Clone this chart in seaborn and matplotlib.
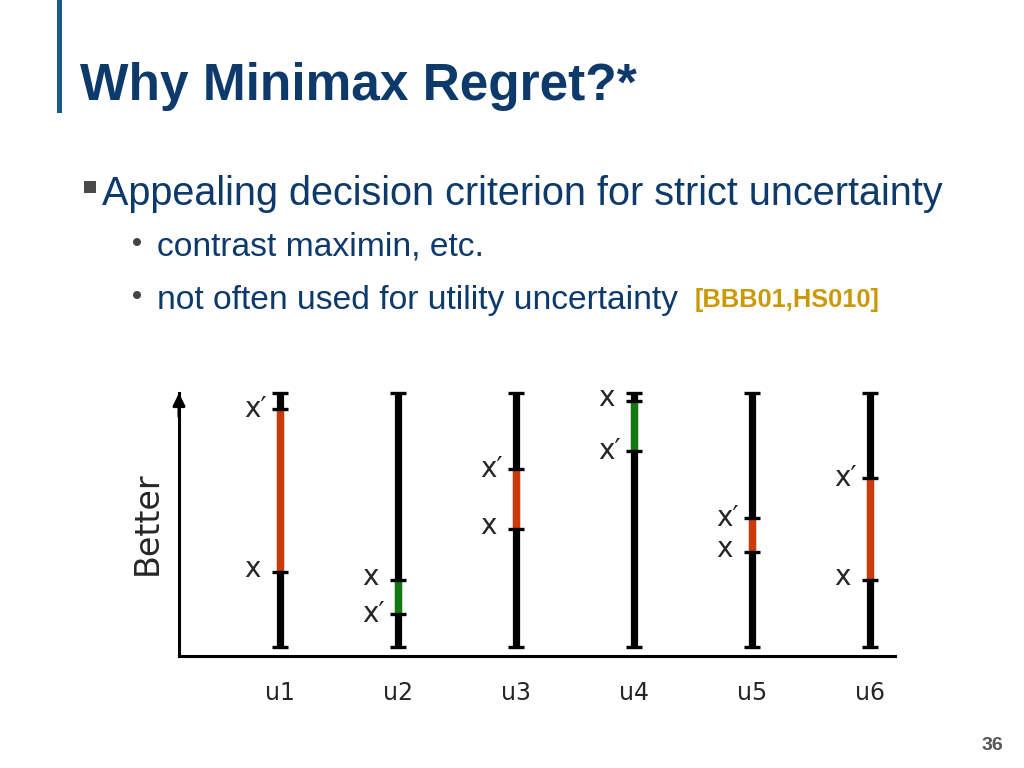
import numpy as np
import pandas as pd
import seaborn as sns
import matplotlib.pyplot as plt
from matplotlib.patches import Rectangle, Ellipse

# --- data (0 = bottom of scale, 100 = top) ---
utilities = ['u1', 'u2', 'u3', 'u4', 'u5', 'u6']
x_value = [29.5, 26.4, 46.5, 97.0, 37.3, 26.4]
xprime_value = [93.7, 13.0, 70.0, 77.2, 50.7, 66.7]
scale_low = [0, 0, 0, 0, 0, 0]
scale_high = [100, 100, 100, 100, 100, 100]

NAVY = '#0d3a6b'
RED = '#cc3a0a'
GREEN = '#107a10'
W, H = 1024, 768


def fx(px):
    return px / W


def fy(py):
    return 1 - py / H


sns.set_theme(style="white")
plt.rcParams['font.family'] = ['Liberation Sans', 'DejaVu Sans']

fig = plt.figure(figsize=(10.24, 7.68), dpi=100)

# slide header
fig.add_artist(Rectangle((fx(57), fy(113)), fx(4.5), 113 / H, color='#1f5a86', lw=0))
fig.text(fx(80), fy(100), "Why Minimax Regret?*", fontsize=37, fontweight='bold',
         color=NAVY, va='baseline')

# bullets
fig.add_artist(Rectangle((fx(84), fy(193)), fx(12), 12 / H, color='#4a4a4a', lw=0))
fig.text(fx(102), fy(205), "Appealing decision criterion for strict uncertainty",
         fontsize=28.5, color=NAVY, va='baseline')
for dot_y in [242, 295]:
    fig.add_artist(Ellipse((fx(137), fy(dot_y)), fx(8), 8 / H, color='#444444', lw=0))
fig.text(fx(157), fy(256), "contrast maximin, etc.", fontsize=24.2, color=NAVY, va='baseline')
fig.text(fx(157), fy(309), "not often used for utility uncertainty", fontsize=24.2,
         color=NAVY, va='baseline')
fig.text(fx(695), fy(307), "[BBB01,HS010]", fontsize=18.3, fontweight='bold',
         color='#c99a06', va='baseline')
fig.text(fx(1003), fy(750), "36", fontsize=14, fontweight='bold', color='#555555',
         ha='right', va='baseline')

lab_font = ['DejaVu Sans']
fig.text(fx(147), fy(523), "Better", rotation=90, fontsize=24, family=lab_font,
         ha='center', va='center')

# chart area
ax = fig.add_axes([fx(179), fy(656), fx(895 - 179), (656 - 393) / H])
pos = np.arange(len(utilities))
ax.set_xlim(-0.856, 5.21)
ax.set_ylim(-3.55, 100)

df = pd.DataFrame({'u': utilities, 'pos': pos, 'x': x_value, 'xp': xprime_value,
                   'lo': scale_low, 'hi': scale_high})

ax.vlines(df['pos'], df['lo'], df['hi'], color='black', lw=5.2, clip_on=False, zorder=2)
for _, r in df.iterrows():
    col = RED if r['xp'] > r['x'] else GREEN
    ax.vlines(r['pos'], min(r['x'], r['xp']), max(r['x'], r['xp']), color=col,
              lw=5.2, clip_on=False, zorder=3)

ticks = pd.concat([
    pd.DataFrame({'pos': pos, 'val': df['lo']}),
    pd.DataFrame({'pos': pos, 'val': df['hi']}),
    pd.DataFrame({'pos': pos, 'val': df['x']}),
    pd.DataFrame({'pos': pos, 'val': df['xp']}),
])
sns.scatterplot(data=ticks, x='pos', y='val', marker='_', s=125, color='black',
                linewidth=2.4, ax=ax, clip_on=False, zorder=4, legend=False)

for _, r in df.iterrows():
    ax.annotate("x", (r['pos'], r['x']), xytext=(-20, 2), textcoords='offset points',
                ha='center', va='center', fontsize=20, family=lab_font, clip_on=False)
    ax.annotate("x\u2032", (r['pos'], r['xp']), xytext=(-18, 0), textcoords='offset points',
                ha='center', va='center', fontsize=20, family=lab_font, clip_on=False)

ax.set_xticks(pos)
ax.set_xticklabels(utilities, fontsize=17, family=lab_font)
ax.tick_params(axis='x', length=0, pad=18)
ax.set_yticks([])
ax.set_xlabel("")
ax.set_ylabel("")

sns.despine(ax=ax, top=True, right=True)
for s in ['left', 'bottom']:
    ax.spines[s].set_color('black')
    ax.spines[s].set_linewidth(2.2)
ax.annotate("", xy=(0, 1.01), xytext=(0, 0.9), xycoords='axes fraction',
            arrowprops=dict(arrowstyle='-|>', color='black', lw=2.2, mutation_scale=18))
ax.patch.set_alpha(0)

fig.savefig("out.png", dpi=100)
